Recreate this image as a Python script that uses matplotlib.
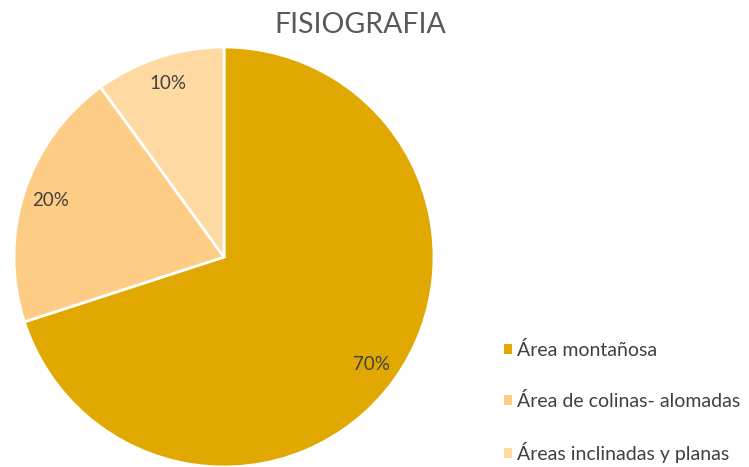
import matplotlib.pyplot as plt
from matplotlib.patches import Patch

labels = ["Área montañosa", "Área de colinas- alomadas", "Áreas inclinadas y planas"]
values = [70, 20, 10]
colors = ["#E0A800", "#FDCD85", "#FFD9A2"]

plt.rcParams['font.family'] = ['Lato', 'DejaVu Sans']

W, H = 749, 467
fig = plt.figure(figsize=(W / 100, H / 100), dpi=100)

# pie axes: center (224, 257), radius 210 in pixels
ax = fig.add_axes([14 / W, 0, 420 / W, 420 / H])
ax.pie(values, colors=colors, startangle=90, counterclock=False,
       autopct='%1.0f%%', pctdistance=0.87,
       wedgeprops=dict(edgecolor='white', linewidth=2),
       textprops=dict(color='#404040', fontsize=13.5))
ax.set_xlim(-1, 1)
ax.set_ylim(-1, 1)
ax.set_aspect('equal')

fig.text(360 / W, 1 - 25 / H, "FISIOGRAFIA", ha='center', va='center',
         fontsize=20.5, color='#595959')

handles = [Patch(facecolor=c, edgecolor='none') for c in colors]
fig.legend(handles, labels, loc='upper left', bbox_to_anchor=(504 / W, 1 - 341 / H),
           frameon=False, fontsize=14, labelcolor='#404040',
           handlelength=0.4, handleheight=0.4, handletextpad=0.25,
           labelspacing=1.68, borderpad=0, borderaxespad=0)

fig.savefig("out.png", dpi=100)
